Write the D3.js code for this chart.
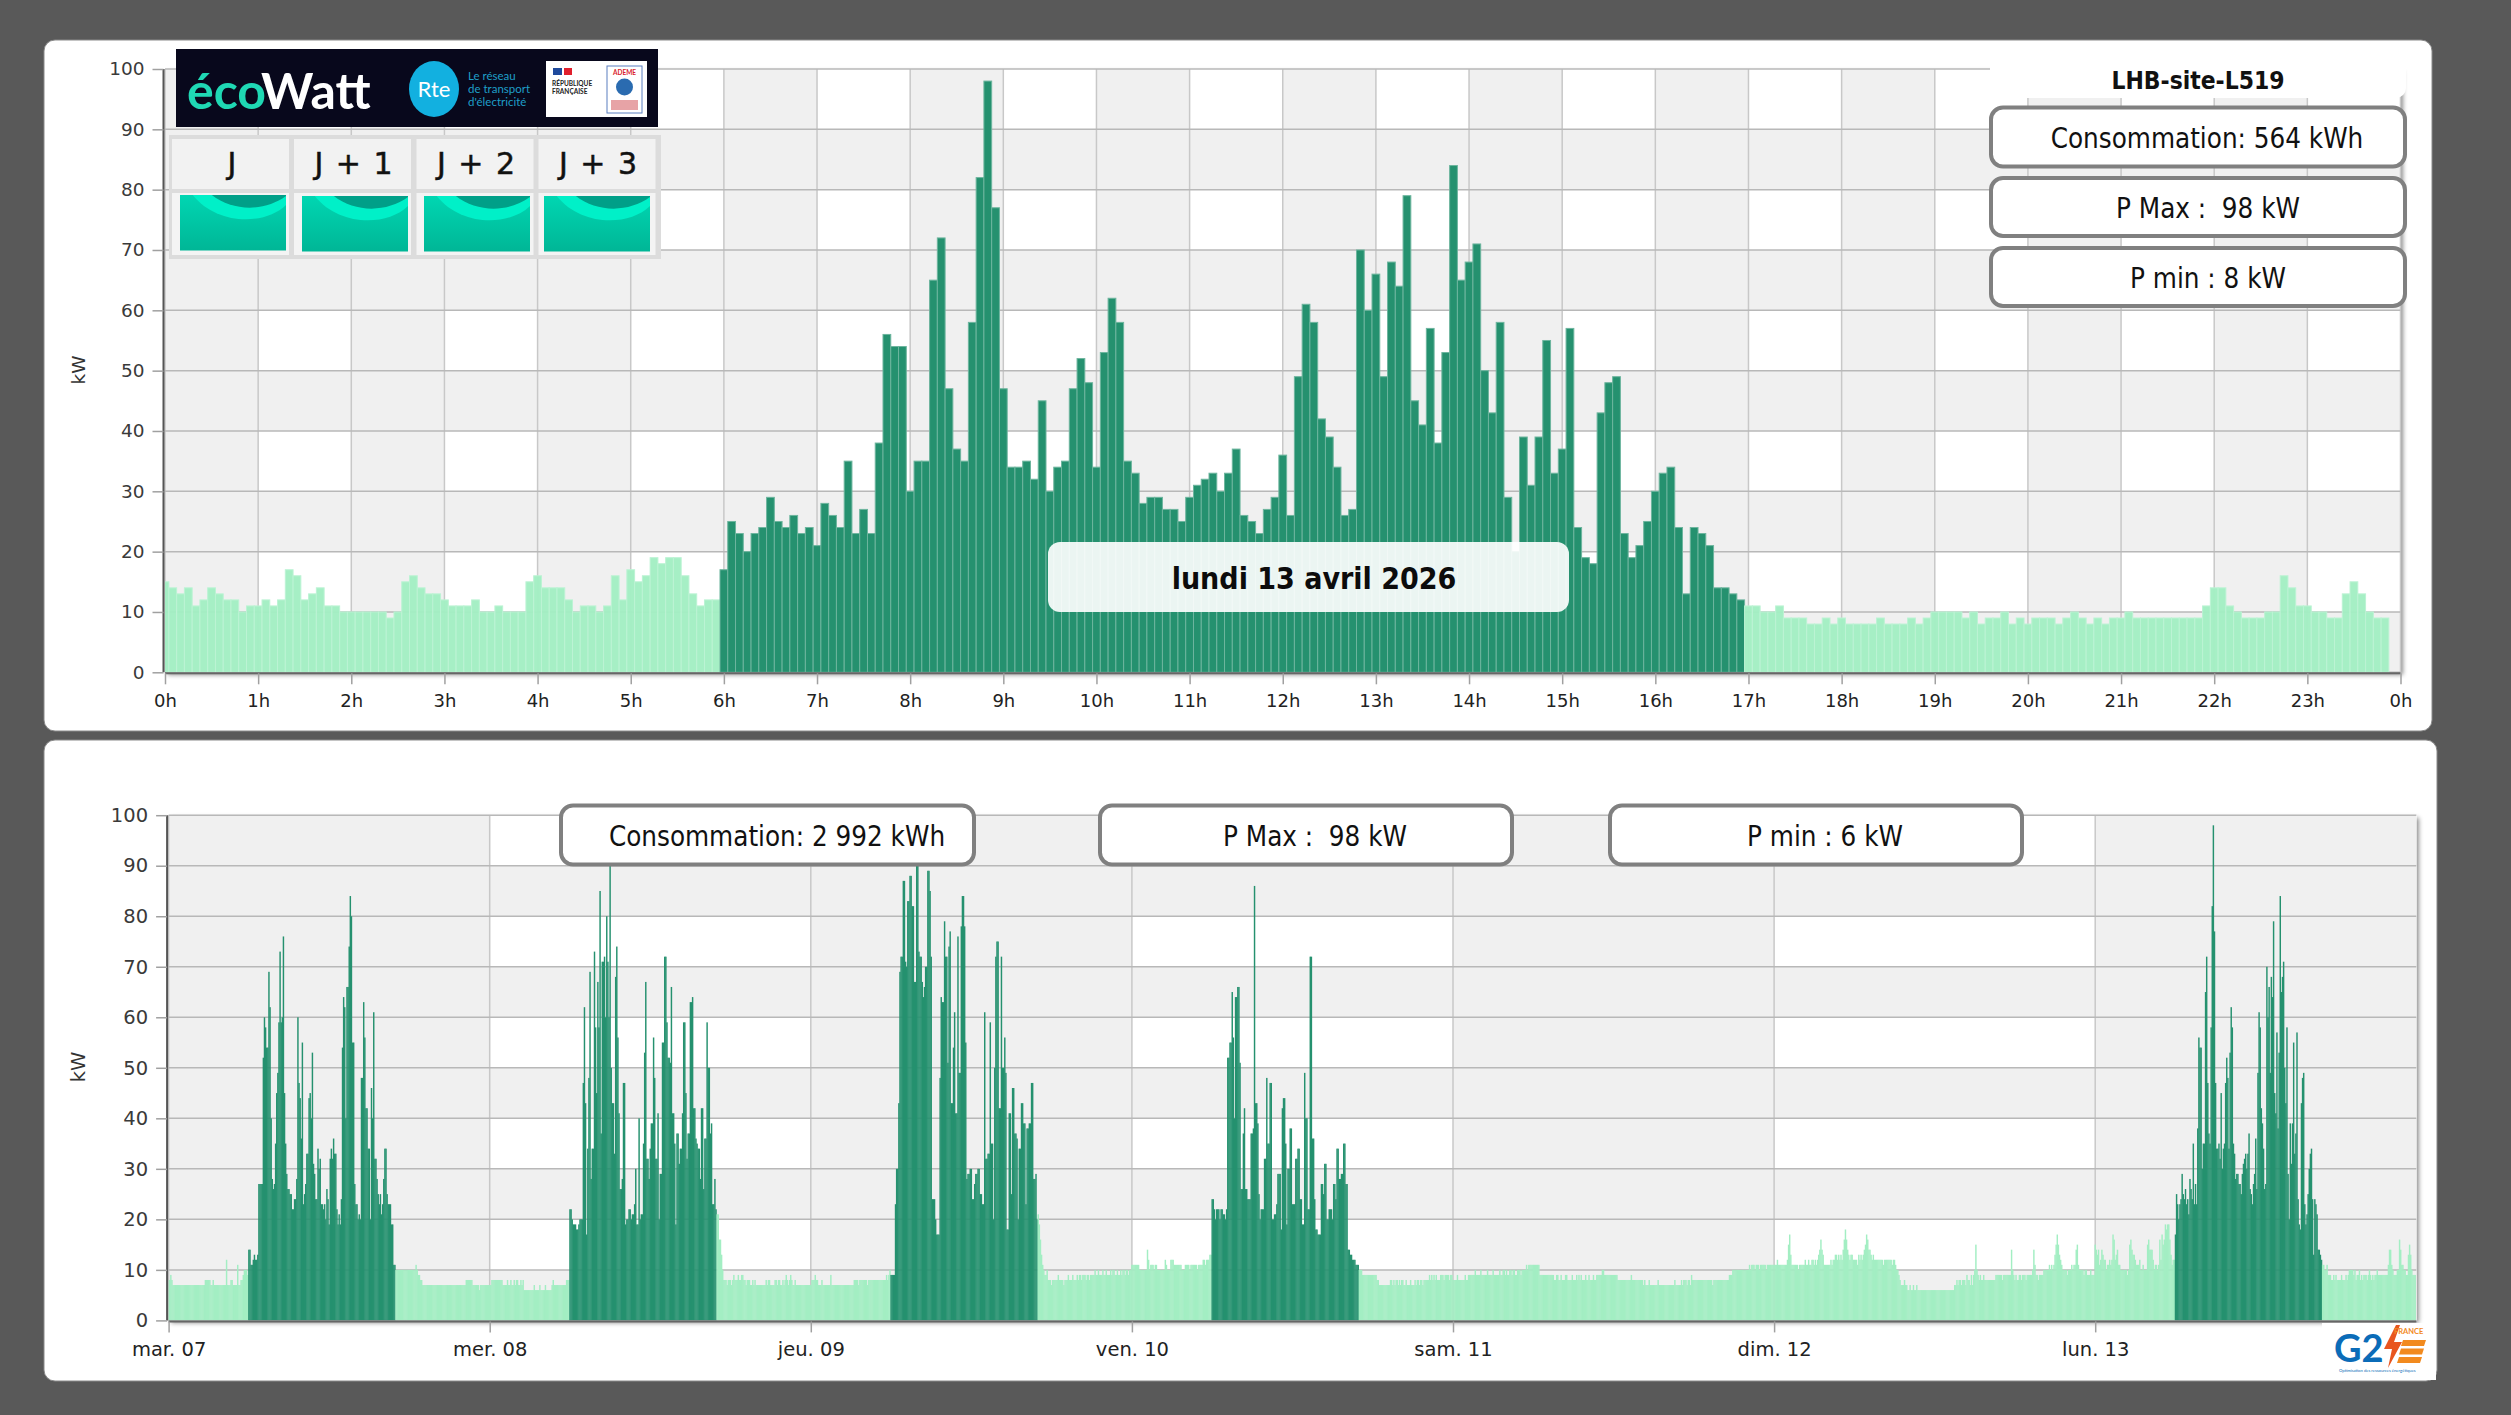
<!DOCTYPE html>
<html lang="fr"><head><meta charset="utf-8">
<script src="https://cdn.jsdelivr.net/npm/d3@7"></script>
<style>html,body{margin:0;padding:0;background:#595959}svg{display:block}text{font-family:"DejaVu Sans",sans-serif}</style>
</head><body><svg id="c" width="2511" height="1415" xmlns="http://www.w3.org/2000/svg"></svg>
<script>
// Puissance (kW) par pas de 5 minutes : une ligne par heure, 0h à 23h
const lun13 = [
15,14,13,14,11,12,14,13,12,12,10,11,
11,12,11,12,17,16,12,13,14,11,11,10,
10,10,10,10,10,9,10,15,16,14,13,13,
12,11,11,11,12,10,10,11,10,10,10,15,
16,14,14,14,12,10,11,11,10,11,16,12,
17,15,16,19,18,19,19,16,13,11,12,12,
17,25,23,20,23,24,29,25,24,26,23,24,
21,28,26,24,35,23,27,23,38,56,54,54,
30,35,35,65,72,47,37,35,58,82,98,77,
47,34,34,35,32,45,30,34,35,47,52,48,
34,53,62,58,35,33,28,29,29,27,27,25,
29,31,32,33,30,33,37,26,25,23,27,29,
36,26,49,61,58,42,39,34,26,27,70,60,
66,49,68,64,79,45,41,57,38,53,84,65,
68,71,50,43,58,29,20,39,31,39,55,33,
37,57,24,19,18,43,48,49,23,19,21,25,
30,33,34,24,13,24,23,21,14,14,13,12,
11,11,10,10,11,9,9,9,8,8,9,8,
9,8,8,8,8,9,8,8,8,9,8,9,
10,10,10,10,9,10,8,9,9,10,8,9,
8,9,9,9,8,9,10,9,8,9,8,9,
9,10,9,9,9,9,9,9,9,9,9,11,
14,14,11,10,9,9,9,10,10,16,14,11,
11,10,10,9,9,13,15,13,10,9,9];
const mar07 = [
8,8,9,8,7,7,7,7,7,7,7,7,
7,7,7,7,7,7,7,7,7,7,7,7,
7,7,7,7,7,7,7,7,7,8,8,8,
8,8,7,7,8,7,7,7,7,7,7,7,
7,7,7,7,12,7,7,7,8,8,7,7,
7,7,11,7,7,8,8,9,10,10,10,9,
14,14,11,11,12,13,12,12,13,27,27,27,
27,52,60,58,54,54,69,62,40,28,26,27,
35,45,49,59,73,59,60,76,45,35,29,26,
26,25,25,22,22,24,24,28,60,47,44,36,
55,23,25,27,33,33,44,45,40,53,31,29,
24,24,34,30,32,23,23,22,23,20,26,24,
19,32,34,32,36,33,33,22,19,21,19,24,
54,64,62,40,66,66,74,84,80,55,55,27,
23,23,20,21,20,48,48,63,56,42,42,34,
34,20,46,40,61,32,32,28,25,23,25,21,
23,28,34,34,25,23,23,23,19,19,11,11,
10,10,10,10,10,10,10,10,10,10,10,10,
10,10,10,10,10,10,11,10,9,9,8,8,
7,7,7,7,7,7,7,7,7,7,7,7,
7,7,7,7,7,7,7,7,7,7,7,7,
7,7,7,7,7,7,7,7,7,7,7,7,
7,7,7,8,8,8,8,8,8,7,7,7,
7,7,7,6,7,7,7,7,7,7,7,7];
const mer08 = [
7,7,8,8,8,8,8,8,8,8,8,8,
7,7,7,7,8,7,7,8,7,7,8,7,
8,8,7,7,8,7,8,6,6,6,6,6,
6,6,6,6,7,6,6,6,6,7,6,6,
6,6,7,6,6,6,6,6,7,8,7,7,
7,7,7,7,7,7,7,7,7,8,8,8,
22,22,20,19,19,19,18,18,19,20,20,20,
47,62,43,17,34,48,69,28,34,34,73,58,
45,67,58,85,37,71,71,72,60,80,71,60,
91,50,43,43,33,68,74,56,41,26,26,28,
47,47,19,20,20,22,22,20,21,21,23,30,
19,19,40,20,21,21,35,53,67,32,32,28,
34,39,39,56,48,32,32,41,20,29,29,55,
55,72,72,59,52,52,51,66,41,41,35,19,
37,37,31,34,34,41,59,59,45,32,37,37,
63,63,64,42,42,36,35,34,34,28,42,42,
26,36,36,59,50,50,37,39,23,23,28,22,
21,21,16,16,13,10,8,8,8,7,8,8,
8,7,8,9,8,8,8,9,8,8,9,9,
8,8,7,8,8,8,7,7,8,7,8,7,
7,7,7,7,7,7,7,7,8,7,8,8,
7,7,7,7,8,8,7,8,8,7,7,8,
7,8,9,8,7,8,9,8,7,7,8,7,
7,7,7,7,7,7,7,7,7,7,7,7];
const jeu09 = [
7,8,8,8,9,8,8,7,7,7,8,7,
7,7,7,7,7,7,9,7,7,7,7,7,
7,7,7,7,7,7,7,7,7,7,7,7,
7,7,7,8,8,8,8,7,8,8,8,8,
8,8,8,7,8,8,8,8,8,8,8,8,
8,8,8,8,8,8,8,8,9,8,9,10,
9,9,9,9,23,30,30,43,69,72,72,87,
87,71,70,83,83,88,88,82,82,67,67,92,
92,73,72,72,67,64,66,70,70,89,89,85,
72,24,24,24,20,17,17,17,48,64,63,63,
79,72,72,51,74,77,43,43,54,61,41,41,
76,49,49,78,84,84,78,55,28,29,29,30,
30,24,24,27,29,29,30,30,25,25,23,23,
61,32,32,33,33,59,35,35,20,50,72,75,
75,42,42,72,50,50,56,49,18,18,41,41,
25,46,46,37,37,36,20,34,34,43,43,39,
39,23,38,38,39,39,47,47,28,28,29,20,
21,19,16,13,11,10,9,9,10,8,8,8,
7,8,8,8,8,8,9,8,8,8,8,7,
8,8,8,9,8,8,8,9,8,8,8,9,
8,9,9,8,9,9,9,8,9,9,8,9,
9,9,9,10,9,9,10,9,9,9,10,9,
9,10,9,9,9,10,9,10,10,9,9,10,
9,9,10,9,10,10,9,10,10,9,10,10];
const ven10 = [
11,11,11,11,11,11,11,10,10,10,10,10,
10,10,14,12,10,11,11,11,10,11,11,10,
10,10,10,10,10,10,12,11,10,10,10,12,
12,12,11,11,11,11,11,11,11,10,10,10,
11,11,11,11,10,11,11,11,11,11,11,10,
11,11,11,11,12,12,11,12,12,12,13,13,
24,24,22,20,22,22,22,20,22,22,21,21,
20,22,52,52,55,55,65,56,40,64,64,66,
66,51,26,26,37,42,26,26,24,24,24,37,
37,38,86,43,43,39,25,20,22,22,22,32,
32,48,35,35,47,47,20,20,21,21,23,29,
29,29,18,42,44,44,35,19,30,30,38,38,
23,23,23,32,32,34,34,24,24,19,19,49,
40,40,22,22,72,72,36,36,24,18,18,17,
17,17,27,27,25,31,31,20,20,22,22,22,
20,27,27,24,34,34,28,28,29,29,35,35,
27,27,14,14,13,13,12,12,12,11,11,11,
10,10,10,9,9,9,9,9,9,9,9,9,
9,9,9,9,8,8,7,7,7,7,7,7,
7,7,7,7,8,8,7,8,7,8,8,7,
8,7,8,8,7,7,8,7,7,7,8,7,
7,7,8,7,8,8,7,8,8,7,8,8,
8,8,8,9,8,9,8,9,8,9,8,8,
8,9,9,9,8,9,9,9,9,8,9,9];
const sam11 = [
8,8,8,8,9,8,8,8,8,8,8,9,
8,8,9,9,9,9,9,9,10,9,9,9,
9,10,9,9,9,9,9,10,9,9,9,9,
10,9,9,9,9,9,10,9,9,10,10,9,
10,9,9,10,10,9,10,10,9,9,10,10,
10,9,10,10,10,10,11,10,11,11,11,11,
11,11,11,11,11,11,9,9,9,9,9,9,
9,9,9,9,9,9,9,8,8,9,9,8,
8,9,8,8,8,9,9,8,8,8,8,9,
8,8,8,9,8,9,8,9,8,8,8,9,
8,8,9,8,8,8,9,8,8,9,9,9,
9,9,10,10,9,9,9,9,9,9,9,9,
9,9,9,9,8,8,8,8,8,8,8,8,
8,8,8,8,9,8,8,8,8,8,8,8,
8,8,8,7,8,7,7,7,8,7,7,7,
7,7,7,7,8,7,7,7,7,7,7,7,
7,7,7,7,7,7,7,8,7,7,7,7,
7,8,7,8,8,8,7,8,8,7,9,8,
8,8,8,8,8,8,8,8,8,8,8,8,
8,8,8,8,8,7,8,8,8,8,8,8,
8,8,8,8,8,8,8,8,9,9,9,10,
10,10,10,10,10,10,10,10,10,10,10,10,
10,10,11,10,11,11,11,10,11,11,11,10,
11,11,11,11,11,10,11,11,11,11,11,11];
const dim12 = [
11,11,11,12,11,11,11,11,11,11,11,11,
12,15,17,13,11,11,11,11,11,11,10,11,
11,11,11,11,12,11,11,12,11,11,12,12,
11,12,11,12,13,14,16,14,13,11,11,11,
11,11,11,12,11,12,12,13,13,12,13,12,
13,12,14,16,18,16,14,13,12,13,13,12,
12,12,12,11,13,12,13,12,13,14,15,17,
16,14,14,13,12,13,12,12,12,12,12,12,
12,12,11,12,12,12,12,12,12,12,11,12,
12,11,10,10,9,8,7,7,7,8,7,7,
6,6,7,6,6,7,6,6,7,6,6,6,
6,6,6,6,6,6,6,6,6,6,6,6,
6,6,6,6,6,6,6,6,6,6,6,6,
6,6,6,6,6,6,7,7,8,7,8,8,
7,8,8,8,7,9,8,8,7,9,7,9,
10,15,10,9,8,9,8,8,9,8,8,8,
8,8,8,8,8,8,8,9,9,9,9,9,
9,8,9,9,9,9,9,9,9,14,10,9,
8,9,8,8,9,9,8,9,9,9,8,9,
9,9,9,9,10,14,11,9,9,8,9,9,
9,9,10,10,10,10,10,11,10,11,10,11,
13,15,17,15,13,12,11,10,10,10,10,9,
10,10,10,11,10,11,11,14,15,11,10,10,
10,10,9,10,10,9,9,9,10,9,9,9];
const lun13Fin = [9];
const heures = d3.range(0, 25);
const jours = ["mar. 07", "mer. 08", "jeu. 09", "ven. 10", "sam. 11", "dim. 12", "lun. 13"];
const kwTicks = d3.range(0, 101, 10);
const joursOuvres = [true, true, true, true, false, false, true];
const debutPointe = 72, finPointe = 204;
const semaine = [mar07, mer08, jeu09, ven10, sam11, dim12, lun13.concat(lun13Fin)];
const titreSite = "LHB-site-L519";
const statsJour = ["Consommation: 564 kWh", "P Max :  98 kW", "P min : 8 kW"];
const statsSemaine = ["Consommation: 2 992 kWh", "P Max :  98 kW", "P min : 6 kW"];
const dateJour = "lundi 13 avril 2026";
const ecowattJours = ["J", "J + 1", "J + 2", "J + 3"];

const DARK = "#25916f", LIGHT = "#a3eec3", BAND = "#f0f0f0", COND = '"DejaVu Sans Condensed","DejaVu Sans"';
const svg = d3.select("#c");
const defs = svg.append("defs");
const sh = defs.append("filter").attr("id", "sh").attr("x", "-2%").attr("y", "-3%").attr("width", "104%").attr("height", "106%");
sh.append("feDropShadow").attr("dx", 2.5).attr("dy", 2.5).attr("stdDeviation", 2).attr("flood-color", "#000").attr("flood-opacity", .45);
const tg = defs.append("linearGradient").attr("id", "tile").attr("x1", 0).attr("y1", 0).attr("x2", 0).attr("y2", 1);
tg.append("stop").attr("offset", 0).attr("stop-color", "#00d6b2");
tg.append("stop").attr("offset", 1).attr("stop-color", "#00b696");

svg.append("rect").attr("width", 2511).attr("height", 1415).attr("fill", "#595959");
function panel(x, y, w, h) {
  svg.append("rect").attr("x", x).attr("y", y).attr("width", w).attr("height", h).attr("rx", 11).attr("fill", "#fff").attr("stroke", "#8a8a8a").attr("stroke-width", 1);
}
panel(44, 40, 2388, 691);
panel(44, 740, 2393, 641);

function chart(o) {
  const g = svg.append("g");
  const y = d3.scaleLinear().domain([0, 100]).range([o.y0, o.y1]);
  const x = d3.scaleLinear().domain(o.domain).range([o.x0, o.x1]);
  const w = o.x1 - o.x0, h = o.y0 - o.y1;
  g.append("rect").attr("x", o.x0).attr("y", o.y1).attr("width", w).attr("height", h).attr("fill", "#fff").attr("filter", "url(#sh)");
  // bandes verticales
  g.selectAll(".vb").data(o.vBands).join("rect").attr("x", d => x(d)).attr("y", o.y1)
    .attr("width", d => x(d + o.bandStep) - x(d)).attr("height", h).attr("fill", BAND);
  // bandes horizontales
  g.selectAll(".hb").data(kwTicks.filter(d => d < 100 && d % 20 === 0)).join("rect")
    .attr("x", o.x0).attr("width", w).attr("y", d => y(d + 10)).attr("height", d => y(d) - y(d + 10)).attr("fill", BAND);
  // quadrillage
  g.selectAll(".gv").data(o.gridV).join("line").attr("x1", d => x(d)).attr("x2", d => x(d)).attr("y1", o.y1).attr("y2", o.y0)
    .attr("stroke", "#c8c8c8").attr("stroke-width", 1.5);
  g.selectAll(".gh").data(kwTicks).join("line").attr("x1", o.x0).attr("x2", o.x1).attr("y1", d => y(d)).attr("y2", d => y(d))
    .attr("stroke", "#b8b8b8").attr("stroke-width", 1.5);
  // barres
  const cid = "clip" + o.id;
  defs.append("clipPath").attr("id", cid).append("rect").attr("x", o.x0).attr("y", o.y1).attr("width", w).attr("height", h);
  const bars = g.append("g").attr("clip-path", `url(#${cid})`);
  bars.selectAll("rect").data(o.points).join("rect")
    .attr("x", d => x(d.t) - o.barW / 2).attr("width", o.barW)
    .attr("y", d => y(d.v)).attr("height", d => o.y0 - y(d.v))
    .attr("fill", d => d.peak ? DARK : LIGHT)
    .attr("fill-opacity", d => d.peak ? 1 : o.lightOp)
    .attr("stroke", d => o.stroke ? (d.peak ? "#6db59e" : "#bcf3d4") : "none")
    .attr("stroke-width", o.stroke ? 1 : 0);
  // axes
  const ay = g.append("g").attr("transform", `translate(${o.x0 - 1.5},0)`)
    .call(d3.axisLeft(y).tickValues(kwTicks).tickSize(11).tickPadding(o.padY));
  ay.select(".domain").attr("stroke", "#555").attr("stroke-width", 2).attr("d", `M0,${o.y1}V${o.y0}`);
  ay.selectAll(".tick line").attr("stroke", "#a0a0a0").attr("stroke-width", 1.5);
  ay.selectAll("text").attr("font-size", o.fsY).attr("fill", "#3a3a3a").style("font-family", '"DejaVu Sans"');
  const ax = g.append("g").attr("transform", `translate(0,${o.y0 + 1})`)
    .call(d3.axisBottom(x).tickValues(o.ticks).tickFormat(o.fmt).tickSize(11).tickPadding(o.padX));
  ax.select(".domain").attr("stroke", "#666").attr("stroke-width", 2).attr("d", `M${o.x0},0H${o.x1}`);
  ax.selectAll(".tick line").attr("stroke", "#a0a0a0").attr("stroke-width", 1.5);
  ax.selectAll("text").attr("font-size", o.fsX).attr("fill", "#222").style("font-family", '"DejaVu Sans"');
  g.append("text").attr("transform", `translate(${o.kwX},${o.kwY}) rotate(-90)`).attr("text-anchor", "middle")
    .attr("font-size", o.fsY).attr("fill", "#333").text("kW");
}

chart({
  id: "a", x0: 165, x1: 2400.5, y0: 672.3, y1: 69, domain: [0, 24],
  vBands: d3.range(0, 24, 2), bandStep: 1, gridV: heures,
  barW: (2400.5 - 165) / 288, stroke: true, lightOp: .97,
  points: lun13.map((v, i) => ({ t: i / 12, v, peak: i >= debutPointe && i < finPointe })),
  ticks: heures, fmt: d => (d % 24) + "h", fsX: 18, fsY: 18.5, padX: 10, padY: 8, kwX: 85, kwY: 370
});
const pts = semaine.flatMap((vals, d) => vals.map((v, i) => ({
  t: d + i / 288, v, peak: joursOuvres[d] && i >= debutPointe && i < finPointe })));
chart({
  id: "b", x0: 168.6, x1: 2416.3, y0: 1320.4, y1: 815.2, domain: [0, 7],
  vBands: [0, 2, 4, 6], bandStep: 1, gridV: d3.range(0, 7),
  barW: 1.45, stroke: false, lightOp: 1, points: pts,
  ticks: d3.range(0, 7), fmt: d => jours[d], fsX: 19.5, fsY: 19.5, padX: 10, padY: 8, kwX: 85, kwY: 1067
});

// cartouches
function box(x, y, w, h, label, tx) {
  svg.append("rect").attr("x", x).attr("y", y).attr("width", w).attr("height", h).attr("rx", 12)
    .attr("fill", "#fff").attr("stroke", "#808080").attr("stroke-width", 4);
  svg.append("text").attr("x", tx).attr("y", y + h / 2 + 1.5).attr("dy", ".36em").attr("text-anchor", "middle")
    .attr("font-size", 27.5).attr("fill", "#111").style("font-family", COND).style("white-space", "pre").text(label);
}
svg.append("path").attr("d", "M1990,62H2406V88a10,10 0 0 1 -10,10H1990Z").attr("fill", "#fff");
svg.append("text").attr("x", 2198).attr("y", 80).attr("dy", ".36em").attr("text-anchor", "middle")
  .attr("font-size", 24.4).attr("font-weight", 700).attr("fill", "#111").style("font-family", COND).text(titreSite);
box(1991, 107.5, 414, 59, statsJour[0], 2207);
box(1991, 178, 414, 58, statsJour[1], 2208);
box(1991, 248, 414, 58, statsJour[2], 2208);
box(561, 805.5, 413, 59, statsSemaine[0], 777);
box(1100, 805.5, 412, 59, statsSemaine[1], 1315);
box(1610, 805.5, 412, 59, statsSemaine[2], 1825);

// date
svg.append("rect").attr("x", 1048).attr("y", 542).attr("width", 521).attr("height", 70).attr("rx", 12).attr("fill", "#fff").attr("fill-opacity", .91);
svg.append("text").attr("x", 1314).attr("y", 578).attr("dy", ".36em").attr("text-anchor", "middle")
  .attr("font-size", 30).attr("font-weight", 700).attr("fill", "#0c0c0c").style("font-family", COND).text(dateJour);

// bandeau ecowatt
const L = svg.append("g");
L.append("rect").attr("x", 176).attr("y", 49).attr("width", 482).attr("height", 78).attr("fill", "#08081c");
const logo = L.append("text").attr("x", 187).attr("y", 109).attr("font-size", 50).attr("font-weight", 700).style("font-family", "Lato");
logo.append("tspan").attr("fill", "#1fd8b4").text("éco");
logo.append("tspan").attr("fill", "#fff").attr("dx", -2).text("Watt");
L.append("ellipse").attr("cx", 434).attr("cy", 89).attr("rx", 25).attr("ry", 28).attr("fill", "#12b0e0");
L.append("text").attr("x", 434).attr("y", 97).attr("text-anchor", "middle").attr("font-size", 22).attr("fill", "#fff").style("font-family", "Lato").text("Rte");
["Le réseau", "de transport", "d'électricité"].forEach((t, i) =>
  L.append("text").attr("x", 468).attr("y", 80 + i * 13).attr("font-size", 11.5).attr("fill", "#1f9fc8").style("font-family", "Lato").text(t));
L.append("rect").attr("x", 546).attr("y", 61).attr("width", 101).attr("height", 56).attr("fill", "#fff");
L.append("rect").attr("x", 553).attr("y", 68).attr("width", 9).attr("height", 7).attr("fill", "#1f4a9c");
L.append("rect").attr("x", 564).attr("y", 68).attr("width", 8).attr("height", 7).attr("fill", "#e01f2c");
["RÉPUBLIQUE", "FRANÇAISE"].forEach((t, i) =>
  L.append("text").attr("x", 552).attr("y", 86 + i * 8).attr("font-size", 6.5).attr("font-weight", 700).attr("fill", "#222").style("font-family", "Lato").text(t));
L.append("rect").attr("x", 607).attr("y", 66).attr("width", 35).attr("height", 47).attr("fill", "#fff").attr("stroke", "#5b7fc0");
L.append("text").attr("x", 624.5).attr("y", 75).attr("text-anchor", "middle").attr("font-size", 6.5).attr("font-weight", 700).attr("fill", "#d9232e").style("font-family", "Lato").text("ADEME");
L.append("ellipse").attr("cx", 624.5).attr("cy", 87).attr("rx", 8.5).attr("ry", 8.5).attr("fill", "#2a6bb0");
L.append("rect").attr("x", 611).attr("y", 100).attr("width", 27).attr("height", 10).attr("fill", "#e7a3a6");

L.append("rect").attr("x", 169).attr("y", 135).attr("width", 492).attr("height", 124).attr("fill", "#dcdcdc");
const cellX = [172, 294, 416.5, 538.5], tileX = [180, 302, 424, 544], tileY = [195, 196, 196, 196], textX = [232, 353.5, 476, 598];
ecowattJours.forEach((t, i) => {
  L.append("rect").attr("x", cellX[i]).attr("y", 139).attr("width", 117).attr("height", 50).attr("fill", "#f2f2f2");
  L.append("rect").attr("x", cellX[i]).attr("y", 193).attr("width", 117).attr("height", 62).attr("fill", "#f4f4f4");
  L.append("text").attr("x", textX[i]).attr("y", 163).attr("dy", ".36em").attr("text-anchor", "middle").attr("font-size", 30).attr("word-spacing", 3)
    .attr("fill", "#111").attr("stroke", "#111").attr("stroke-width", .5).style("white-space", "pre").text(t);
  const tx = tileX[i], ty = tileY[i], tw = 106, th = 55.5;
  const T = L.append("g").attr("transform", `translate(${tx},${ty})`);
  T.append("rect").attr("width", tw).attr("height", th).attr("fill", "url(#tile)");
  T.append("path").attr("d", `M${tw * .12},0 C${tw * .35},${th * .55} ${tw * .8},${th * .55} ${tw},${th * .18} V0 Z`).attr("fill", "#00f0c8");
  T.append("path").attr("d", `M${tw * .3},0 C${tw * .5},${th * .3} ${tw * .8},${th * .3} ${tw},${th * .02} V0 Z`).attr("fill", "#009f88");
});

// logo G2E
const G = svg.append("g");
G.append("rect").attr("x", 2322).attr("y", 1323).attr("width", 114).attr("height", 57).attr("fill", "#fff");
G.append("text").attr("x", 2334).attr("y", 1362).attr("font-size", 38).attr("font-weight", 700).attr("fill", "#0b6cb8").style("font-family", "Lato").text("G2");
G.append("path").attr("d", "M2396,1325L2384,1349H2392L2388,1368L2402,1342H2394L2400,1325Z").attr("fill", "#e8551e");
[0, 1, 2].forEach(k => {
  const top = 1340 + k * 8.5;
  G.append("path").attr("d", `M${2403 - k * 2},${top}H${2426 - k * 2}L${2424 - k * 2},${top + 6}H${2401 - k * 2}Z`).attr("fill", "#f28a1e");
});
G.append("text").attr("x", 2394).attr("y", 1334).attr("font-size", 7.5).attr("font-weight", 700).attr("fill", "#f28a1e").style("font-family", "Lato").text("FRANCE");
G.append("text").attr("x", 2339).attr("y", 1372).attr("font-size", 4.2).attr("fill", "#0b6cb8").style("font-family", "Lato").text("Optimisation des ressources énergétiques");
</script></body></html>
